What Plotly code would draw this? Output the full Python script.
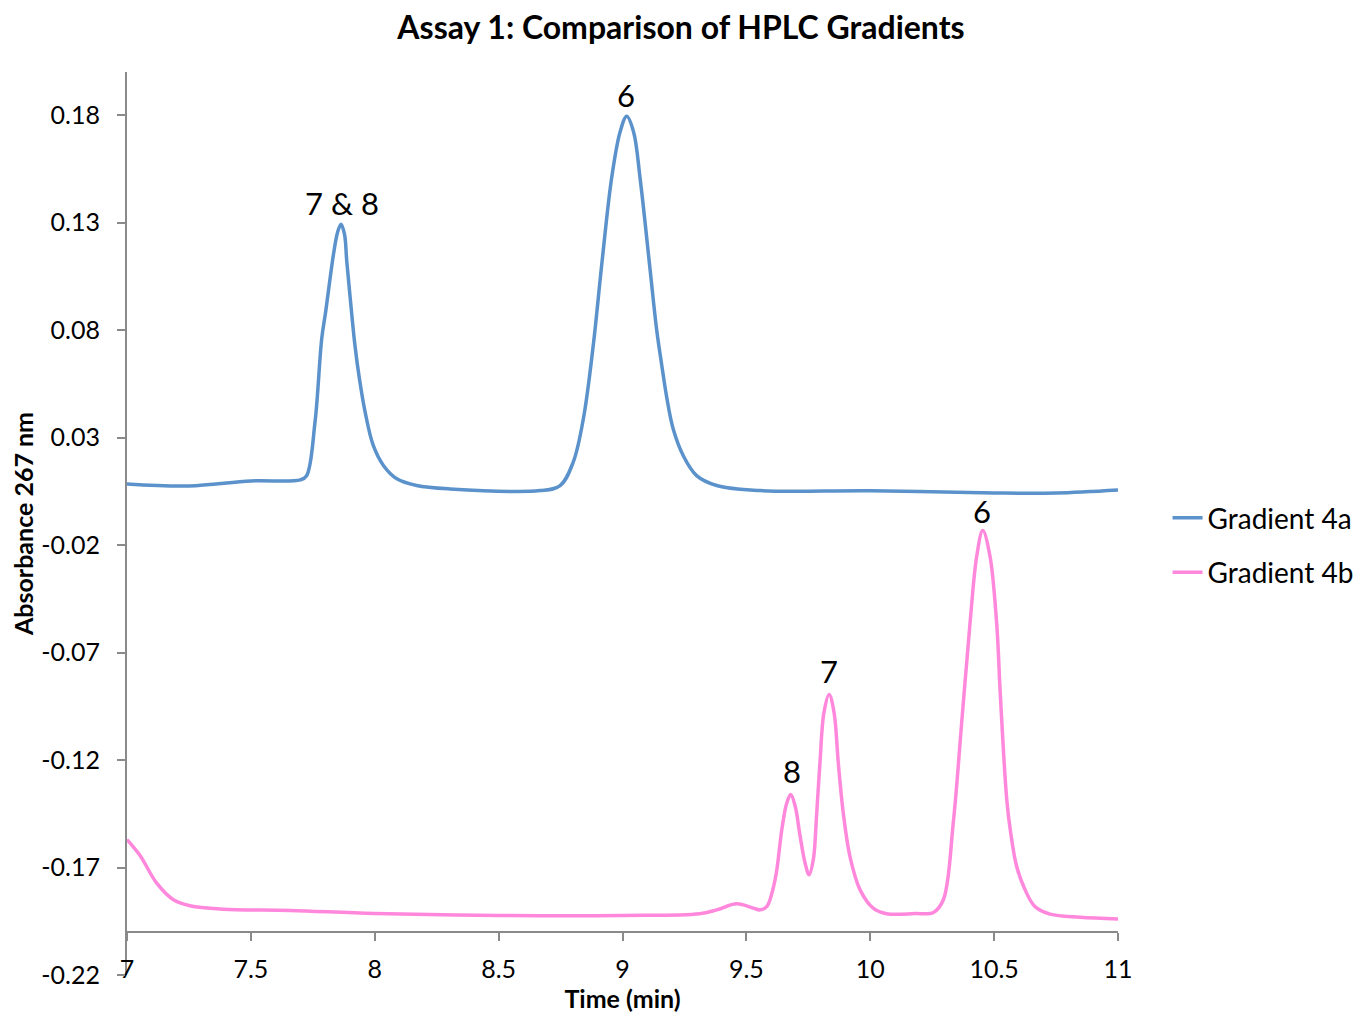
import plotly.graph_objects as go

# ---- data ----
time_4a = [7.0, 7.25, 7.5, 7.7, 7.725, 7.759, 7.786, 7.802, 7.833, 7.85, 7.864, 7.878, 7.887,
           7.9, 7.92, 7.938, 7.961, 7.994, 8.035, 8.089, 8.169, 8.304, 8.667, 8.748, 8.801,
           8.842, 8.882, 8.916, 8.956, 8.99, 9.017, 9.045, 9.071, 9.111, 9.138, 9.158, 9.178,
           9.205, 9.245, 9.299, 9.38, 9.555, 10.0, 10.5, 10.75, 11.0]
abs_4a = [0.0084, 0.0075, 0.0098, 0.0103, 0.0122, 0.0373, 0.0760, 0.0886, 0.1149, 0.1255, 0.1292,
          0.1245, 0.1120, 0.0960, 0.0729, 0.0574, 0.0419, 0.0263, 0.0170, 0.0108, 0.0077,
          0.0061, 0.0053, 0.0076, 0.0185, 0.0387, 0.0729, 0.1102, 0.1506, 0.1720, 0.1794,
          0.1720, 0.1506, 0.1085, 0.0800, 0.0640, 0.0490, 0.0338, 0.0216, 0.0123, 0.0077,
          0.0053, 0.0052, 0.0042, 0.0042, 0.0056]

time_4b = [7.0, 7.052, 7.12, 7.187, 7.254, 7.388, 7.658, 8.0, 8.5, 9.0, 9.311, 9.38, 9.461,
           9.528, 9.555, 9.582, 9.616, 9.643, 9.663, 9.679, 9.697, 9.717, 9.737, 9.753, 9.77,
           9.784, 9.797, 9.813, 9.834, 9.854, 9.871, 9.891, 9.918, 9.959, 10.012, 10.066,
           10.18, 10.255, 10.295, 10.335, 10.369, 10.403, 10.43, 10.454, 10.483, 10.51,
           10.526, 10.551, 10.567, 10.591, 10.625, 10.665, 10.726, 10.847, 11.0]
abs_4b = [-0.157, -0.1643, -0.1773, -0.185, -0.1878, -0.1894, -0.19, -0.1914, -0.1923,
          -0.1923, -0.1915, -0.1897, -0.1869, -0.1889, -0.1897, -0.1882, -0.1756, -0.1524,
          -0.14, -0.1361, -0.1415, -0.1555, -0.1679, -0.1734, -0.1664, -0.1446, -0.1213,
          -0.098, -0.0895, -0.098, -0.1213, -0.1446, -0.1648, -0.1804, -0.1889, -0.1915,
          -0.1914, -0.1909, -0.185, -0.1493, -0.1027, -0.056, -0.025, -0.0133, -0.025,
          -0.056, -0.0918, -0.1384, -0.154, -0.1695, -0.1804, -0.1882, -0.1917, -0.1931,
          -0.1939]

series_names = ["Gradient 4a", "Gradient 4b"]

peak_labels = ["7 & 8", "6", "8", "7", "6"]
peak_x = [7.868, 9.015, 9.684, 9.834, 10.451]
peak_y = [0.139, 0.1893, -0.1249, -0.0787, -0.0042]

y_ticks = [-0.22, -0.17, -0.12, -0.07, -0.02, 0.03, 0.08, 0.13, 0.18]
y_tick_text = ["-0.22", "-0.17", "-0.12", "-0.07", "-0.02", "0.03", "0.08", "0.13", "0.18"]
x_ticks = [7, 7.5, 8, 8.5, 9, 9.5, 10, 10.5, 11]
x_tick_text = ["7", "7.5", "8", "8.5", "9", "9.5", "10", "10.5", "11"]

FONT = "Lato"
AXIS_COLOR = "#8a8a8a"
W, H = 1355, 1005  # page adds an 8px body margin

fig = go.Figure()
fig.add_trace(go.Scatter(x=time_4a, y=abs_4a, mode="lines", name=series_names[0],
                         legendgroup="a",
                         line=dict(color="#5B92CB", width=3.5, shape="spline", smoothing=1.0)))
fig.add_trace(go.Scatter(x=time_4b, y=abs_4b, mode="lines", name=series_names[1],
                         legendgroup="b",
                         line=dict(color="#FF88DC", width=3.5, shape="spline", smoothing=1.0)))

for t, x, y in zip(peak_labels, peak_x, peak_y):
    fig.add_annotation(x=x, y=y, text=t, showarrow=False, xanchor="center", yanchor="middle",
                       font=dict(family=FONT, size=31, color="black"))

fig.update_layout(
    width=W, height=H,
    margin=dict(l=119, r=245, t=64, b=38, autoexpand=False),
    paper_bgcolor="white", plot_bgcolor="white",
    font=dict(family=FONT, size=25, color="black"),
    title=dict(text="<b>Assay 1: Comparison of HPLC Gradients</b>", x=(681 - 8) / W,
               xref="container", xanchor="center", y=1 - 20 / H, yref="container",
               yanchor="middle", font=dict(family=FONT, size=32, color="black")),
    showlegend=True,
    legend=dict(x=1.05, xanchor="left", y=0.476, yanchor="middle",
                font=dict(family=FONT, size=28, color="black"),
                tracegroupgap=15, bgcolor="rgba(0,0,0,0)"),
    xaxis=dict(range=[7, 11], tickmode="array", tickvals=x_ticks, ticktext=x_tick_text,
               anchor="free", position=0.02 / 0.42, showgrid=False, zeroline=False,
               showline=True, linecolor=AXIS_COLOR, linewidth=2,
               ticks="outside", ticklen=8, tickwidth=2, tickcolor=AXIS_COLOR,
               ticklabelstandoff=7,
               tickfont=dict(family=FONT, size=25, color="black"),
               title=dict(text="<b>Time (min)</b>", standoff=2,
                          font=dict(family=FONT, size=25, color="black")),
               automargin=False),
    yaxis=dict(range=[-0.22, 0.2], tickmode="array", tickvals=y_ticks, ticktext=y_tick_text,
               showgrid=False, zeroline=False, showline=True, linecolor=AXIS_COLOR,
               linewidth=2, ticks="outside", ticklen=8, tickwidth=2, tickcolor=AXIS_COLOR,
               ticklabelstandoff=12,
               tickfont=dict(family=FONT, size=25, color="black"),
               title=dict(text="<b>Absorbance 267 nm</b>", standoff=6,
                          font=dict(family=FONT, size=25, color="black")),
               automargin=False),
)

fig.write_html("out.html")
